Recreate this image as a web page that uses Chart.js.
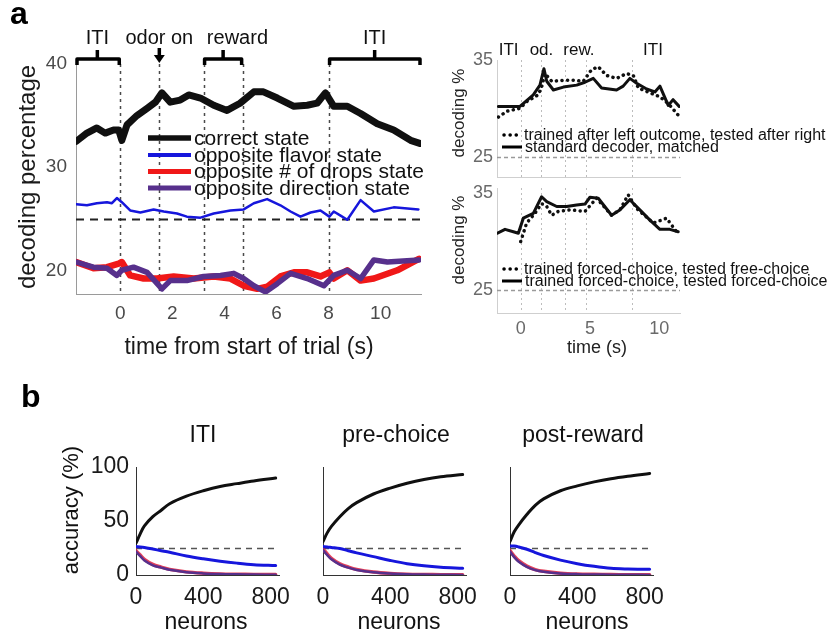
<!DOCTYPE html>
<html>
<head>
<meta charset="utf-8">
<script src="https://cdn.jsdelivr.net/npm/chart.js@4"></script>
<style>
html, body { margin: 0; padding: 0; background: #fff; }
#wrap { position: relative; width: 828px; height: 635px; overflow: hidden; }
#wrap canvas { position: absolute; left: 0; top: 0; }
</style>
</head>
<body>
<div id="wrap">
  <canvas id="cMain" width="828" height="635"></canvas>
  <canvas id="cTop" width="828" height="635"></canvas>
  <canvas id="cBot" width="828" height="635"></canvas>
  <canvas id="cB1" width="828" height="635"></canvas>
  <canvas id="cB2" width="828" height="635"></canvas>
  <canvas id="cB3" width="828" height="635"></canvas>
</div>
<script>
const FONT = '"Liberation Sans", Arial, Helvetica, sans-serif';
const W = 828, H = 635;

// ---- panel a, left: decoding over the trial ----
const mainXTicks = [0, 2, 4, 6, 8, 10];
const mainYTicks = [20, 30, 40];
const mainEvents = [0, 1.5, 3.2, 4.7, 8];
const chance = 25;
const mainLegend = ['correct state', 'opposite flavor state', 'opposite # of drops state', 'opposite direction state'];

const mainCorrectT = [-1.69, -1.28, -0.9, -0.58, -0.26, -0.06, 0.06, 0.26, 0.64, 1.03, 1.35, 1.6, 1.92, 2.3, 2.63, 3.08, 3.59, 4.1, 4.6, 5.13, 5.5, 6.03, 6.67, 7.18, 7.56, 7.88, 8.2, 8.72, 9.23, 9.87, 10.5, 11.15, 11.5];
const mainCorrectV = [32.5, 33.3, 33.8, 33.3, 33.6, 33.6, 32.6, 34.1, 35.0, 35.7, 36.3, 37.2, 36.3, 36.5, 37.0, 36.7, 36.0, 35.5, 36.2, 37.3, 37.3, 36.7, 35.9, 36.0, 36.2, 37.2, 35.9, 35.9, 35.2, 34.2, 33.6, 32.6, 32.3];

const mainFlavorT = [-1.69, -1.28, -0.9, -0.51, -0.32, -0.13, 0.06, 0.38, 0.77, 1.28, 1.67, 2.18, 2.56, 3.08, 3.59, 4.23, 4.74, 5.13, 5.64, 6.15, 6.54, 6.92, 7.31, 7.69, 8.03, 8.2, 8.46, 8.72, 9.23, 9.74, 10.5, 11.45];
const mainFlavorV = [26.4, 26.3, 26.5, 26.6, 26.5, 27.0, 26.6, 25.8, 25.6, 25.9, 25.7, 25.5, 25.2, 25.1, 25.5, 25.8, 25.9, 26.5, 26.9, 26.3, 25.7, 25.2, 25.6, 25.8, 25.2, 25.7, 25.3, 24.9, 26.8, 25.7, 26.1, 25.9];

const mainDropsT = [-1.69, -1.03, -0.51, -0.06, 0.06, 0.38, 0.9, 1.41, 2.05, 2.82, 3.59, 4.23, 4.74, 5.26, 5.64, 6.15, 6.67, 7.18, 7.69, 8.03, 8.2, 8.72, 9.23, 9.74, 10.64, 11.47];
const mainDropsV = [20.8, 20.2, 20.3, 20.65, 20.8, 19.5, 19.2, 19.2, 19.4, 19.2, 19.4, 19.2, 18.5, 18.2, 18.4, 19.4, 19.8, 19.8, 19.4, 19.8, 19.2, 20.0, 19.0, 19.2, 20.0, 21.1];

const mainDirT = [-1.69, -1.03, -0.51, -0.13, 0.06, 0.51, 1.03, 1.6, 1.92, 2.56, 3.2, 3.85, 4.36, 4.74, 5.13, 5.58, 6.03, 6.54, 7.18, 7.82, 8.2, 8.72, 9.23, 9.74, 10.26, 11.47];
const mainDirV = [20.8, 20.3, 20.2, 19.5, 20.0, 20.3, 19.8, 18.2, 19.0, 19.0, 19.4, 19.5, 19.7, 19.2, 18.5, 17.9, 18.7, 19.7, 19.2, 18.5, 19.5, 20.0, 19.2, 21.0, 20.8, 21.0];

// ---- panel a, right: control decoders ----
const sideXTicks = [0, 5, 10];
const sideYTicks = [25, 35];
const sideEpochs = ['ITI', 'od.', 'rew.', 'ITI'];
const sideEpochT = [-0.87, 1.5, 4.2, 9.55];
const topLegend = ['trained after left outcome, tested after right', 'standard decoder, matched'];
const botLegend = ['trained forced-choice, tested free-choice', 'trained forced-choice, tested forced-choice'];

const topDotT = [-1.61, -1.0, -0.05, 0.43, 1.27, 1.51, 1.75, 2.24, 3.08, 3.8, 4.52, 5.12, 5.6, 6.2, 6.92, 7.64, 8.13, 8.49, 9.33, 10.05, 10.65, 11.37];
const topDotV = [29.1, 29.7, 30.0, 30.7, 31.4, 32.2, 33.6, 32.8, 32.9, 32.9, 32.8, 34.0, 34.3, 33.4, 33.1, 33.6, 33.4, 32.1, 31.6, 31.2, 30.5, 29.3];
const topSolidT = [-1.61, -0.05, 0.91, 1.39, 1.68, 1.88, 2.36, 3.08, 4.04, 4.64, 5.24, 5.84, 6.92, 7.4, 7.88, 8.37, 9.09, 9.69, 10.05, 10.65, 11.0, 11.44];
const topSolidV = [30.2, 30.2, 31.4, 32.4, 34.1, 32.8, 31.9, 32.2, 32.4, 32.7, 33.1, 32.1, 31.9, 32.3, 33.1, 32.6, 32.0, 31.7, 32.3, 30.3, 30.9, 30.2];

const botDotT = [0, 0.43, 1.03, 1.51, 1.88, 2.24, 2.72, 3.56, 4.64, 5.48, 6.56, 7.16, 7.76, 8.37, 9.57, 10.53, 11.25];
const botDotV = [30.0, 31.9, 32.9, 33.9, 33.6, 32.7, 33.1, 33.25, 33.1, 34.45, 32.7, 33.25, 34.8, 33.4, 31.9, 32.4, 31.0];
const botSolidT = [-1.68, -1.13, -0.53, -0.17, 0.19, 0.91, 1.51, 1.88, 2.6, 3.32, 4.04, 4.64, 5.0, 5.6, 6.56, 7.16, 7.88, 8.6, 9.33, 10.05, 10.77, 11.37];
const botSolidV = [30.85, 31.25, 31.0, 30.85, 32.4, 32.9, 34.6, 34.1, 33.6, 33.6, 33.75, 33.85, 34.55, 34.45, 32.7, 33.25, 34.3, 33.25, 32.2, 31.25, 31.25, 31.0];

// ---- panel b: accuracy vs number of neurons ----
const neurons = [0, 25, 50, 100, 150, 200, 300, 400, 500, 600, 700, 830];
const bTitles = ['ITI', 'pre-choice', 'post-reward'];
const bXTicks = [0, 400, 800];
const bYTicks = [0, 50, 100];

const itiCorrect = [29.4, 38, 45.5, 54, 60, 66, 73, 78, 82, 84.6, 87.1, 89.8];
const itiFlavor  = [26.3, 26, 25.5, 24, 22.5, 21, 17.6, 15, 12.8, 11, 9.6, 8.7];
const itiDrops   = [22.5, 18.5, 14.5, 9.8, 7.3, 5.2, 2.9, 1.7, 1.0, 0.7, 0.5, 0.4];
const itiDir     = [21.7, 17.5, 13.5, 9, 6.8, 4.8, 2.6, 1.5, 0.9, 0.6, 0.4, 0.3];

const preCorrect = [31, 39, 45, 54, 61.5, 67, 75, 80.5, 85, 88.5, 91, 93];
const preFlavor  = [26.3, 26, 25.5, 24.5, 22.5, 20.5, 17, 13.5, 10.5, 8.5, 7.2, 6.2];
const preDrops   = [24, 19.5, 15.5, 10.3, 7.4, 5.2, 2.8, 1.5, 0.8, 0.5, 0.3, 0.2];
const preDir     = [23.2, 18.5, 14.5, 9.5, 6.8, 4.7, 2.5, 1.3, 0.7, 0.4, 0.2, 0.1];

const postCorrect = [31, 40, 46, 56, 64.5, 70.5, 78, 82.5, 86.2, 89.2, 91.5, 94];
const postFlavor  = [26.9, 26.8, 26, 23.8, 20.8, 18, 13.8, 10.5, 8, 6.2, 5.6, 5.3];
const postDrops   = [22.5, 17.5, 13.5, 8.2, 5, 3.4, 1.7, 0.9, 0.6, 0.4, 0.3, 0.2];
const postDir     = [21.7, 16.5, 12.5, 7.5, 4.5, 3, 1.5, 0.8, 0.5, 0.3, 0.2, 0.1];

const BLACK = '#101010', BLUE = '#1616dc', RED = '#f01818', PURPLE = '#57308c';

function pts(xs, ys) { return xs.map((x, i) => ({ x: x, y: ys[i] })); }

// reference lines under the data
const guides = {
  id: 'guides',
  beforeDatasetsDraw(chart, args, o) {
    const { ctx, chartArea: a, scales: { x, y } } = chart;
    ctx.save();
    (o.vlines || []).forEach(t => {
      const px = Math.round(x.getPixelForValue(t)) + 0.5;
      ctx.strokeStyle = o.vColor; ctx.lineWidth = o.vWidth; ctx.setLineDash(o.vDash);
      ctx.beginPath(); ctx.moveTo(px, a.top); ctx.lineTo(px, a.bottom); ctx.stroke();
    });
    if (o.hline != null) {
      const py = Math.round(y.getPixelForValue(o.hline)) + 0.5;
      const x0 = o.hFrom != null ? x.getPixelForValue(o.hFrom) : a.left;
      ctx.strokeStyle = o.hColor; ctx.lineWidth = o.hWidth; ctx.setLineDash(o.hDash);
      ctx.beginPath(); ctx.moveTo(x0, py); ctx.lineTo(a.right, py); ctx.stroke();
    }
    ctx.restore();
  }
};

// texts, legends, brackets
const notes = {
  id: 'notes',
  afterDraw(chart, args, o) {
    const ctx = chart.ctx, x = chart.scales.x;
    ctx.save();
    (o.texts || []).forEach(t => {
      ctx.font = (t.bold ? 'bold ' : '') + t.size + 'px ' + FONT;
      ctx.fillStyle = t.color || '#111';
      ctx.textAlign = t.align || 'center';
      ctx.textBaseline = 'middle';
      const px = t.t != null ? x.getPixelForValue(t.t) : t.x;
      if (t.rot) {
        ctx.save(); ctx.translate(px, t.y); ctx.rotate(-Math.PI / 2);
        ctx.fillText(t.text, 0, 0); ctx.restore();
      } else {
        ctx.fillText(t.text, px, t.y);
      }
    });
    (o.brackets || []).forEach(b => {
      const x0 = x.getPixelForValue(b.from), x1 = x.getPixelForValue(b.to), xm = x.getPixelForValue(b.mid);
      ctx.strokeStyle = '#000'; ctx.lineWidth = 3.5; ctx.lineJoin = 'round'; ctx.lineCap = 'butt';
      ctx.beginPath();
      ctx.moveTo(x0 + 1, b.y + 6); ctx.lineTo(x0 + 1, b.y); ctx.lineTo(x1 - 1, b.y); ctx.lineTo(x1 - 1, b.y + 6);
      ctx.moveTo(xm, b.y); ctx.lineTo(xm, b.y - 9);
      ctx.stroke();
    });
    (o.arrows || []).forEach(r => {
      const xa = x.getPixelForValue(r.at);
      ctx.strokeStyle = '#000'; ctx.fillStyle = '#000'; ctx.lineWidth = 3.5;
      ctx.beginPath(); ctx.moveTo(xa, r.y0); ctx.lineTo(xa, r.y1 - 6); ctx.stroke();
      ctx.beginPath(); ctx.moveTo(xa - 5.5, r.y1 - 8); ctx.lineTo(xa + 5.5, r.y1 - 8); ctx.lineTo(xa, r.y1); ctx.closePath(); ctx.fill();
    });
    (o.legend || []).forEach(r => {
      ctx.strokeStyle = r.color; ctx.lineWidth = r.width;
      ctx.setLineDash(r.dash || []); ctx.lineCap = r.dash ? 'round' : 'butt';
      ctx.beginPath(); ctx.moveTo(r.x0, r.y); ctx.lineTo(r.x1, r.y); ctx.stroke();
      ctx.setLineDash([]);
      ctx.font = r.size + 'px ' + FONT; ctx.fillStyle = '#111';
      ctx.textAlign = 'left'; ctx.textBaseline = 'middle';
      ctx.fillText(r.text, r.x1 + 3, r.y + 1);
    });
    ctx.restore();
  }
};

Chart.register(guides, notes);

function makeChart(id, c) {
  const [x0, y0, x1, y1] = c.rect;
  const yw = 50, xh = 40;
  return new Chart(document.getElementById(id), {
    type: 'line',
    data: { datasets: c.datasets },
    options: {
      responsive: false, animation: false, devicePixelRatio: 1, events: [],
      layout: { padding: { left: x0 - yw, top: y0, right: W - x1, bottom: H - y1 - xh } },
      elements: { point: { radius: 0 }, line: { tension: c.tension || 0, borderJoinStyle: 'round', borderCapStyle: 'round' } },
      scales: {
        x: {
          type: 'linear', min: c.xMin, max: c.xMax,
          afterBuildTicks: s => { s.ticks = c.xTicks.map(v => ({ value: v })); },
          afterFit: s => { s.height = xh; },
          grid: { display: false, drawTicks: false },
          border: { display: true, color: c.axisColor, width: c.axisWidth || 1 },
          ticks: { display: c.xLabels !== false, font: { family: FONT, size: c.tickSize }, color: c.tickColor,
                   padding: c.xPad, maxRotation: 0, autoSkip: false }
        },
        y: {
          type: 'linear', min: c.yMin, max: c.yMax,
          afterBuildTicks: s => { s.ticks = c.yTicks.map(v => ({ value: v })); },
          afterFit: s => { s.width = yw; },
          grid: { display: false, drawTicks: false },
          border: { display: true, color: c.axisColor, width: c.axisWidth || 1 },
          ticks: { display: c.yLabels !== false, font: { family: FONT, size: c.tickSize }, color: c.tickColor,
                   padding: c.yPad, autoSkip: false }
        }
      },
      plugins: { legend: { display: false }, tooltip: { enabled: false }, guides: c.guides || {}, notes: c.notes || {} }
    }
  });
}

// ---- panel a, main chart ----
makeChart('cMain', {
  rect: [76, 64, 421, 294], xMin: -1.7, xMax: 11.55, yMin: 17.7, yMax: 40,
  xTicks: mainXTicks, yTicks: mainYTicks, tickSize: 19, tickColor: '#4a4a4a', axisColor: '#9a9a9a',
  xPad: 8, yPad: 9,
  datasets: [
    { data: pts(mainCorrectT, mainCorrectV), borderColor: BLACK, borderWidth: 7, order: 0 },
    { data: pts(mainDirT, mainDirV), borderColor: PURPLE, borderWidth: 5.5, order: 1 },
    { data: pts(mainDropsT, mainDropsV), borderColor: RED, borderWidth: 6.5, order: 2 },
    { data: pts(mainFlavorT, mainFlavorV), borderColor: BLUE, borderWidth: 2.5, order: 3 }
  ],
  guides: { vlines: mainEvents, vColor: '#4a4a4a', vWidth: 1.5, vDash: [3, 4],
            hline: chance, hColor: '#222', hWidth: 2, hDash: [8, 6] },
  notes: {
    texts: [
      { text: 'a', x: 10, y: 15, size: 32, bold: true, align: 'left', color: '#000' },
      { text: 'ITI', t: -0.88, y: 38, size: 20 },
      { text: 'odor on', t: 1.5, y: 38, size: 20 },
      { text: 'reward', t: 4.5, y: 38, size: 20 },
      { text: 'ITI', t: 9.77, y: 38, size: 20 },
      { text: 'decoding percentage', x: 28, y: 177, size: 24, rot: true, color: '#1a1a1a' },
      { text: 'time from start of trial (s)', x: 249, y: 348, size: 23, color: '#1a1a1a' }
    ],
    brackets: [
      { from: -1.7, to: 0, mid: -0.88, y: 59 },
      { from: 3.2, to: 4.7, mid: 3.95, y: 59 },
      { from: 8, to: 11.55, mid: 9.77, y: 59 }
    ],
    arrows: [{ at: 1.5, y0: 48, y1: 63 }],
    legend: [
      { text: mainLegend[0], color: BLACK, width: 5.5, x0: 148, x1: 191, y: 138, size: 21 },
      { text: mainLegend[1], color: BLUE, width: 4, x0: 148, x1: 191, y: 155, size: 21 },
      { text: mainLegend[2], color: RED, width: 5, x0: 148, x1: 191, y: 171.5, size: 21 },
      { text: mainLegend[3], color: PURPLE, width: 5, x0: 148, x1: 191, y: 188, size: 21 }
    ]
  }
});

// ---- panel a, right top ----
makeChart('cTop', {
  rect: [497, 60, 680, 177], xMin: -1.71, xMax: 11.5, yMin: 22.9, yMax: 35,
  xTicks: sideXTicks, yTicks: sideYTicks, tickSize: 18, tickColor: '#6a6a6a', axisColor: '#cfcfcf',
  xLabels: false, xPad: 5, yPad: 4,
  datasets: [
    { data: pts(topDotT, topDotV), borderColor: BLACK, borderWidth: 3.5, borderDash: [0.1, 5.5] },
    { data: pts(topSolidT, topSolidV), borderColor: BLACK, borderWidth: 3 }
  ],
  guides: { vlines: mainEvents, vColor: '#bdbdbd', vWidth: 1, vDash: [2, 3],
            hline: chance, hColor: '#9a9a9a', hWidth: 1.3, hDash: [4, 3] },
  notes: {
    texts: sideEpochs.map((s, i) => ({ text: s, t: sideEpochT[i], y: 50, size: 17 })).concat([
      { text: 'decoding %', x: 459, y: 113, size: 17, rot: true, color: '#222' }
    ]),
    legend: [
      { text: topLegend[0], color: '#000', width: 3.5, dash: [0.1, 6], x0: 504, x1: 521, y: 135, size: 16 },
      { text: topLegend[1], color: '#000', width: 3, x0: 502, x1: 522, y: 147, size: 16 }
    ]
  }
});

// ---- panel a, right bottom ----
makeChart('cBot', {
  rect: [497, 188, 680, 313], xMin: -1.71, xMax: 11.5, yMin: 22.66, yMax: 35.5,
  xTicks: sideXTicks, yTicks: sideYTicks, tickSize: 18, tickColor: '#6a6a6a', axisColor: '#cfcfcf',
  xPad: 5, yPad: 4,
  datasets: [
    { data: pts(botDotT, botDotV), borderColor: BLACK, borderWidth: 3.5, borderDash: [0.1, 5.5] },
    { data: pts(botSolidT, botSolidV), borderColor: BLACK, borderWidth: 3 }
  ],
  guides: { vlines: mainEvents, vColor: '#bdbdbd', vWidth: 1, vDash: [2, 3],
            hline: chance, hColor: '#9a9a9a', hWidth: 1.3, hDash: [4, 3] },
  notes: {
    texts: [
      { text: 'decoding %', x: 459, y: 240, size: 17, rot: true, color: '#222' },
      { text: 'time (s)', x: 597, y: 348, size: 18, color: '#222' }
    ],
    legend: [
      { text: botLegend[0], color: '#000', width: 3.5, dash: [0.1, 6], x0: 504, x1: 521, y: 269, size: 16 },
      { text: botLegend[1], color: '#000', width: 3, x0: 502, x1: 522, y: 281, size: 16 }
    ]
  }
});

// ---- panel b ----
const bSets = [
  { id: 'cB1', rect: [136, 467, 279, 575], c: itiCorrect, f: itiFlavor, d: itiDrops, r: itiDir, tx: 203, nx: 206 },
  { id: 'cB2', rect: [323, 467, 466, 575], c: preCorrect, f: preFlavor, d: preDrops, r: preDir, tx: 396, nx: 399 },
  { id: 'cB3', rect: [510, 467, 653, 575], c: postCorrect, f: postFlavor, d: postDrops, r: postDir, tx: 583, nx: 587 }
];
bSets.forEach((p, i) => {
  const texts = [
    { text: bTitles[i], x: p.tx, y: 436, size: 23, color: '#111' },
    { text: 'neurons', x: p.nx, y: 623, size: 23, color: '#111' }
  ];
  if (i === 0) {
    texts.push({ text: 'b', x: 21, y: 398, size: 32, bold: true, align: 'left', color: '#000' });
    texts.push({ text: 'accuracy (%)', x: 72, y: 510, size: 22, rot: true, color: '#111' });
  }
  makeChart(p.id, {
    rect: p.rect, xMin: 0, xMax: 850, yMin: 0, yMax: 100, tension: 0.35,
    xTicks: bXTicks, yTicks: bYTicks, tickSize: 23, tickColor: '#1a1a1a', axisColor: '#333',
    yLabels: i === 0, xPad: 9, yPad: 7,
    datasets: [
      { data: pts(neurons, p.c), borderColor: BLACK, borderWidth: 3, order: 0 },
      { data: pts(neurons, p.f), borderColor: BLUE, borderWidth: 3, order: 1 },
      { data: pts(neurons, p.r), borderColor: PURPLE, borderWidth: 2.5, order: 2 },
      { data: pts(neurons, p.d), borderColor: 'rgba(225,30,60,0.85)', borderWidth: 3.5, order: 3 }
    ],
    guides: { hline: chance, hFrom: 0, hColor: '#555', hWidth: 1.5, hDash: [6, 5] },
    notes: { texts: texts }
  });
});
</script>
</body>
</html>
